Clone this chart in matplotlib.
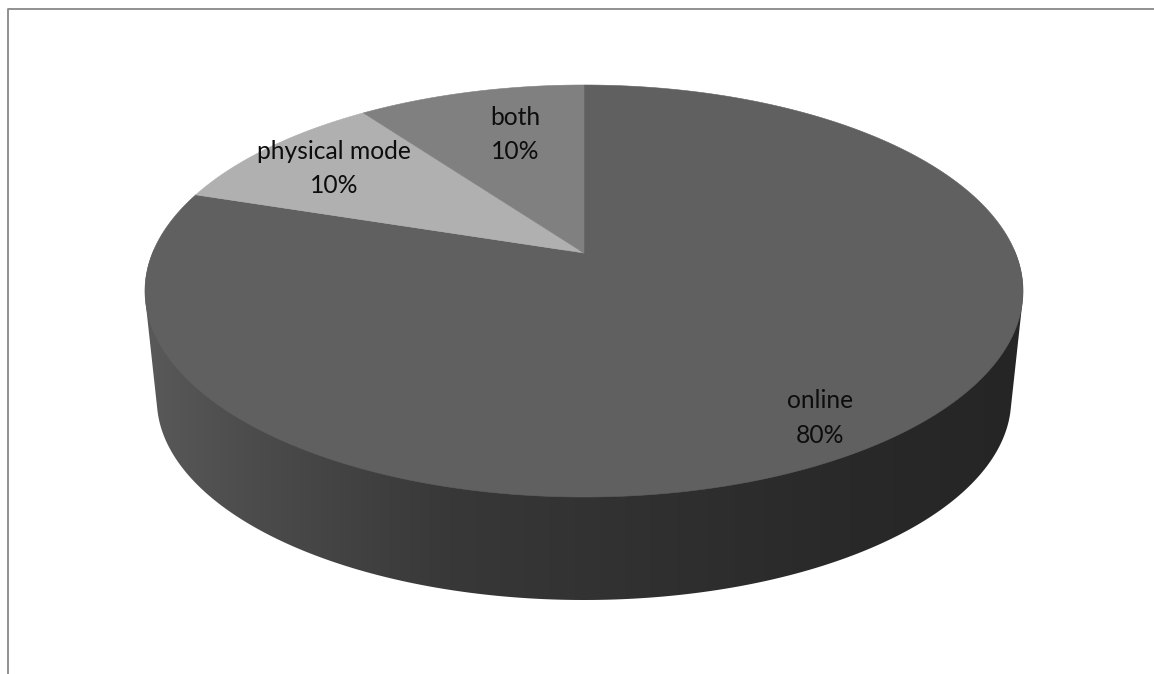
import numpy as np
import matplotlib
matplotlib.use("Agg")
import matplotlib.pyplot as plt
from matplotlib.patches import Polygon

labels = ["online", "physical mode", "both"]
values = [80, 10, 10]
top_colors = ["#606060", "#b0b0b0", "#808080"]

W, H = 1154, 674

# projection of the unit disc (x to the right, z away from the viewer)
CX, CY = 584.0, 253.0
A, B, K = 431.5, 199.0, 0.1845
# the bottom face shrinks towards a vanishing point far below
VX, VY, S = 584.0, 4311.0, 0.973


def project(x, z):
    d = 1.0 + K * z
    return CX + A * x / d, CY - B * z / d


def to_bottom(px, py):
    return VX + S * (px - VX), VY + S * (py - VY)


def hull(pts):
    pts = sorted(map(tuple, pts))
    def cross(o, a, b):
        return (a[0] - o[0]) * (b[1] - o[1]) - (a[1] - o[1]) * (b[0] - o[0])
    lower, upper = [], []
    for p in pts:
        while len(lower) >= 2 and cross(lower[-2], lower[-1], p) <= 0:
            lower.pop()
        lower.append(p)
    for p in reversed(pts):
        while len(upper) >= 2 and cross(upper[-2], upper[-1], p) <= 0:
            upper.pop()
        upper.append(p)
    return np.array(lower[:-1] + upper[:-1])


fig = plt.figure(figsize=(W / 100, H / 100), dpi=100)
ax = fig.add_axes([0, 0, 1, 1])
ax.set_xlim(0, W)
ax.set_ylim(H, 0)
ax.axis("off")

# chart frame (top and left edges)
ax.plot([7.5, 7.5, W], [H, 8.5, 8.5], color="#888888", lw=1.3, solid_capstyle="butt")

# side wall: hull of top and bottom rims, filled with a horizontal gradient
phi = np.linspace(0, 2 * np.pi, 721)
tx, ty = project(np.cos(phi), np.sin(phi))
bx, by = to_bottom(tx, ty)
side = hull(np.column_stack([np.r_[tx, bx], np.r_[ty, by]]))
side_patch = Polygon(side, closed=True, facecolor="none", edgecolor="none")
ax.add_patch(side_patch)

gx = np.linspace(140, 1030, 400)
stops_x = [140, 250, 450, 650, 850, 1030]
stops_v = [0x5a, 0x4c, 0x38, 0x30, 0x29, 0x25]
gv = np.interp(gx, stops_x, stops_v) / 255.0
grad = np.repeat(gv[None, :, None], 3, axis=2)
im = ax.imshow(grad, extent=(140, 1030, 620, 250), aspect="auto", interpolation="bilinear", zorder=1)
im.set_clip_path(side_patch)

# top face wedges, clockwise from 12 o'clock
bounds = np.r_[0, np.cumsum(values)] / float(sum(values)) * 2 * np.pi
for i, lab in enumerate(labels):
    t = np.linspace(bounds[i], bounds[i + 1], 300)
    px, py = project(np.sin(t), np.cos(t))
    poly = np.column_stack([np.r_[CX, px], np.r_[CY, py]])
    ax.add_patch(Polygon(poly, closed=True, facecolor=top_colors[i], edgecolor=top_colors[i], lw=0.4, zorder=2))

# data labels
label_pos = [(820, 418), (334, 168.5), (515, 134.5)]
for lab, v, (lx, ly) in zip(labels, values, label_pos):
    ax.text(lx, ly, "%s\n%d%%" % (lab, v), ha="center", va="center", fontsize=17.7,
            family="Lato", color="#0d0d0d", linespacing=1.6, zorder=3)

fig.savefig("out.png", dpi=100)
